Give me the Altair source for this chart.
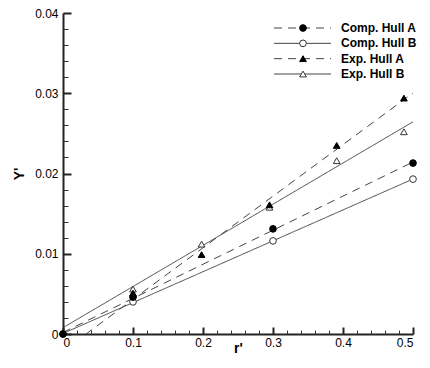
import altair as alt
import pandas as pd

series_names = ["Comp. Hull A", "Comp. Hull B", "Exp. Hull A", "Exp. Hull B"]

comp_x = [0.0, 0.1, 0.3, 0.5]
comp_a_y = [0.0, 0.0046, 0.0131, 0.0213]
comp_b_y = [0.0, 0.0040, 0.0116, 0.0193]
exp_a_x = [0.1, 0.198, 0.295, 0.391, 0.487]
exp_a_y = [0.0051, 0.0099, 0.0161, 0.0235, 0.0294]
exp_b_x = [0.1, 0.198, 0.295, 0.391, 0.487]
exp_b_y = [0.0056, 0.0112, 0.0158, 0.0216, 0.0252]

x_ticks = [0, 0.1, 0.2, 0.3, 0.4, 0.5]
y_ticks = [0, 0.01, 0.02, 0.03, 0.04]
x_minor = [0.02, 0.04, 0.06, 0.08, 0.12, 0.14, 0.16, 0.18, 0.22, 0.24, 0.26, 0.28,
           0.32, 0.34, 0.36, 0.38, 0.42, 0.44, 0.46, 0.48]
y_minor = [0.002, 0.004, 0.006, 0.008, 0.012, 0.014, 0.016, 0.018, 0.022, 0.024,
           0.026, 0.028, 0.032, 0.034, 0.036, 0.038]

# open symbols first so that filled ones are drawn on top
rows = []
for xv, yv in zip(comp_x, comp_b_y):
    rows.append({"series": series_names[1], "x": xv, "y": yv})
for xv, yv in zip(exp_b_x, exp_b_y):
    rows.append({"series": series_names[3], "x": xv, "y": yv})
for xv, yv in zip(comp_x, comp_a_y):
    rows.append({"series": series_names[0], "x": xv, "y": yv})
for xv, yv in zip(exp_a_x, exp_a_y):
    rows.append({"series": series_names[2], "x": xv, "y": yv})
df = pd.DataFrame(rows)
df_leg = pd.DataFrame({"series": series_names})

W, H = 350, 321
FONT = "Liberation Sans"
AX = "#222222"
LINE = "#444444"

xs = alt.Scale(domain=[0, 0.5], nice=False, zero=False)
ys = alt.Scale(domain=[0, 0.04], nice=False, zero=False)

dash = alt.StrokeDash("series:N", scale=alt.Scale(domain=series_names,
                      range=[[8, 6], [1, 0], [8, 6], [1, 0]]), legend=None)
shape = alt.Shape("series:N", scale=alt.Scale(domain=series_names,
                  range=["circle", "circle", "triangle-up", "triangle-up"]), legend=None)
fill = alt.Fill("series:N", scale=alt.Scale(domain=series_names,
                range=["#000000", "#ffffff", "#000000", "#ffffff"]), legend=None)
stroke = alt.Stroke("series:N", scale=alt.Scale(domain=series_names,
                    range=["#000000", "#333333", "#000000", "#333333"]), legend=None)
size = alt.Size("series:N", scale=alt.Scale(domain=series_names,
                range=[45, 45, 28, 28]), legend=None)

x_label_axis = alt.Axis(orient="bottom", values=x_ticks, format="~g", ticks=False,
                        domain=True, domainColor=AX, domainWidth=2, grid=False,
                        labelFont=FONT, labelFontSize=12, labelColor="#000",
                        labelPadding=3, title="r'", titleFont=FONT, titleFontSize=14,
                        titleFontWeight="bold", titleColor="#000",
                        titleBaseline="alphabetic", titleY=18)
y_label_axis = alt.Axis(orient="left", values=y_ticks, format="~g", ticks=False,
                        domain=True, domainColor=AX, domainWidth=2, grid=False,
                        labelFont=FONT, labelFontSize=12, labelColor="#000",
                        labelPadding=5, title="Y'", titleFont=FONT, titleFontSize=14,
                        titleFontWeight="bold", titleColor="#000",
                        titleBaseline="middle", titleAlign="center", titleX=-44)

x_major_axis = alt.Axis(orient="top", offset=-H, values=x_ticks, labels=False,
                        domain=False, grid=False, ticks=True, tickSize=7,
                        tickWidth=2, tickColor=AX, title=None)
y_major_axis = alt.Axis(orient="right", offset=-W, values=y_ticks, labels=False,
                        domain=False, grid=False, ticks=True, tickSize=8,
                        tickWidth=2, tickColor=AX, title=None)
x_minor_axis = alt.Axis(orient="top", offset=-H, values=x_minor, labels=False,
                        domain=False, grid=False, ticks=True, tickSize=4,
                        tickWidth=1, tickColor="#333333", title=None)
y_minor_axis = alt.Axis(orient="right", offset=-W, values=y_minor, labels=False,
                        domain=False, grid=False, ticks=True, tickSize=5,
                        tickWidth=1, tickColor="#333333", title=None)

base = alt.Chart(df)

lines = base.transform_regression(
    "x", "y", groupby=["series"], extent=[0, 0.5], method="linear"
).mark_line(clip=True, color=LINE, strokeWidth=1).encode(
    x=alt.X("x:Q", scale=xs, axis=x_label_axis),
    y=alt.Y("y:Q", scale=ys, axis=y_label_axis),
    strokeDash=dash,
    detail="series:N",
)

points = base.mark_point(filled=True, strokeWidth=1, opacity=1).encode(
    x=alt.X("x:Q", scale=xs, axis=x_major_axis),
    y=alt.Y("y:Q", scale=ys, axis=y_major_axis),
    shape=shape, fill=fill, stroke=stroke, size=size,
)

minor = base.mark_point(opacity=0).encode(
    x=alt.X("x:Q", scale=xs, axis=x_minor_axis),
    y=alt.Y("y:Q", scale=ys, axis=y_minor_axis),
)

leg_y = alt.Y("series:N", scale=alt.Scale(type="point", domain=series_names,
              range=[15, 61], padding=0), axis=None)

leg_rule = alt.Chart(df_leg).mark_rule(color=LINE, strokeWidth=1).encode(
    x=alt.value(211), x2=alt.value(268), y=leg_y, strokeDash=dash,
)
leg_pts = alt.Chart(df_leg).mark_point(filled=True, strokeWidth=1, opacity=1).encode(
    x=alt.value(240), y=leg_y, shape=shape, fill=fill, stroke=stroke, size=size,
)
leg_txt = alt.Chart(df_leg).mark_text(align="left", baseline="middle", font=FONT,
                                      fontSize=12, fontWeight="bold", color="#000").encode(
    x=alt.value(278), y=leg_y, text="series:N",
)

chart = alt.layer(lines, points, minor, leg_rule, leg_pts, leg_txt).resolve_scale(
    y="independent"
).resolve_axis(x="independent", y="independent").properties(
    width=W, height=H,
    autosize=alt.AutoSizeParams(type="none"),
    padding={"left": 55, "top": 5, "right": 9, "bottom": 22},
).configure_view(stroke=None)

chart.save("out.html", embed_options={"renderer": "svg", "actions": False})
